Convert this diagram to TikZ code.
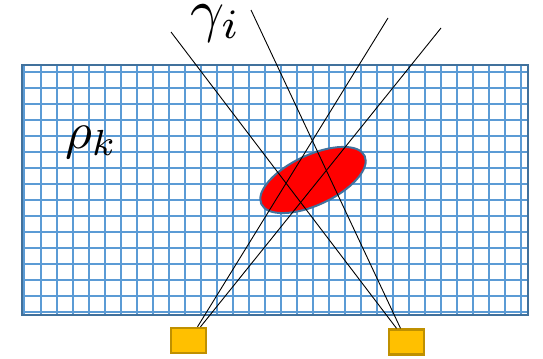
\documentclass[tikz,border=0pt]{standalone}
\definecolor{cellblue}{HTML}{5B9BD5}
\definecolor{frameblue}{HTML}{41719C}
\definecolor{detfill}{HTML}{FFC000}
\definecolor{detframe}{HTML}{BF9000}
\begin{document}
\begin{tikzpicture}[x=1bp, y=-1bp,
  gridline/.style={line width=2.7bp, cellblue},
  frame/.style={line width=2.4bp, frameblue},
  blob/.style={line width=2bp, draw=frameblue, fill=red},
  ray/.style={line width=0.9bp, black},
  detector/.style={draw=detframe, fill=detfill, line width=2.4bp, inner sep=0pt,
    minimum width=35bp, minimum height=25bp},
  symb/.style={inner sep=0pt, scale=5.2}]
  \useasboundingbox (0,0) rectangle (543,358);
  % voxel grid
  \foreach \x in {24,41,57,...,521}
    \draw[gridline] (\x,65) -- (\x,315);
  \foreach \y in {72,88,...,312}
    \draw[gridline] (22,\y) -- (528,\y);
  \draw[frame] (22,65) rectangle (528,315);
  % object
  \draw[blob, rotate around={25:(313,180)}] (313,180) ellipse (57 and 25);
  % detectors
  \node[detector] (d1) at (188.5,340.5) {};
  \node[detector] (d2) at (406.5,342) {};
  % rays
  \coordinate (t1) at (171,32);
  \coordinate (t2) at (251,10);
  \coordinate (t3) at (388,18);
  \coordinate (t4) at (441,28);
  \draw[ray] ([xshift=-10bp]d2.north) -- (t1);
  \draw[ray] ([xshift=-6bp]d2.north) -- (t2);
  \draw[ray] ([xshift=9bp]d1.north) -- (t3);
  \draw[ray] ([xshift=12bp]d1.north) -- (t4);
  % labels
  \node[symb, scale=1.15, anchor=base west] (gam) at (189,30) {$\gamma_i$};
  \node[symb, anchor=base west] (rho) at (64,148) {$\rho_k$};
\end{tikzpicture}
\end{document}
